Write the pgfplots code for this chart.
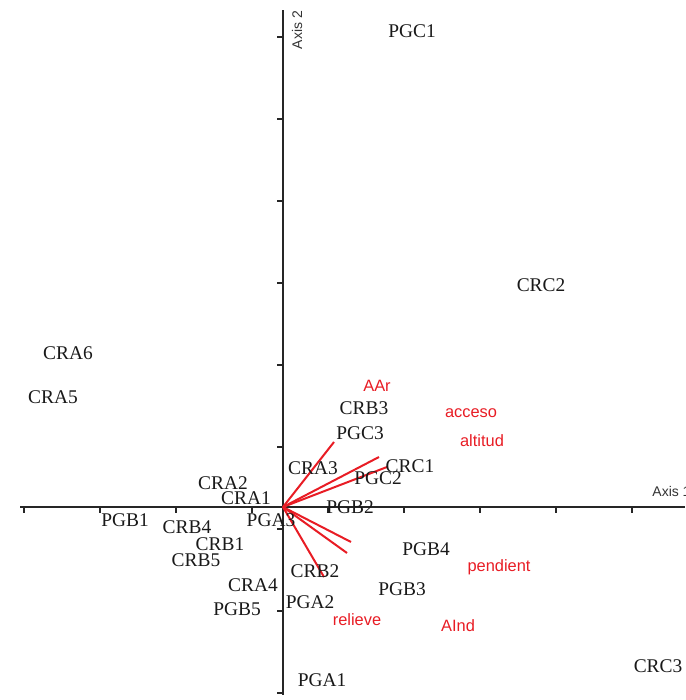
\documentclass[border=0pt]{standalone}
\usepackage{fontspec}
\setmainfont{Liberation Serif}
\newfontfamily\arialfont{Liberation Sans}
\usepackage{pgfplots}
\usepackage{pgfplotstable}
\pgfplotsset{compat=1.18}
\definecolor{vecred}{RGB}{232,28,36}
\definecolor{labblack}{RGB}{25,25,25}

% site scores (pixel-like units, origin at the axes crossing)
\pgfplotstableread{
x y label
129 476 PGC1
258 222 CRC2
-215 154 CRA6
-230 110 CRA5
81 99 CRB3
77 74 PGC3
30 39 CRA3
127 41 CRC1
95 29 PGC2
-60 24 CRA2
-37 9 CRA1
67 0 PGB2
-158 -13 PGB1
-12 -13 PGA3
-96 -20 CRB4
-63 -37 CRB1
143 -42 PGB4
-87 -53 CRB5
32 -64 CRB2
-30 -78 CRA4
119 -82 PGB3
27 -95 PGA2
-46 -102 PGB5
39 -173 PGA1
375 -159 CRC3
}\sites

% environmental variable labels
\pgfplotstableread{
x y label
94 121 AAr
188 94 acceso
199 66 altitud
216 -60 pendient
74 -113 relieve
175 -119 AInd
}\envlab

\begin{document}
\begin{tikzpicture}
\begin{axis}[
  width=342.5pt, height=350pt, scale only axis,
  xmin=-283, xmax=402, ymin=-193, ymax=507,
  axis lines=middle,
  axis line style={-, line width=1pt, black!85},
  x axis line style={shorten <=10pt},
  y axis line style={shorten <=2.5pt, shorten >=5pt},
  xtick={-259,-183,-107,-31,45,121,197,273,349},
  ytick={470,388,306,224,142,60,-22,-104,-186},
  xticklabels={}, yticklabels={},
  tick align=outside,
  major tick length=3pt,
  tick style={line width=0.8pt, black!85},
  clip=false,
]
% environmental vectors
\addplot[vecred, line width=1pt] coordinates {(0,0) (51,65)};
\addplot[vecred, line width=1pt] coordinates {(0,0) (96,50)};
\addplot[vecred, line width=1pt] coordinates {(0,0) (104,40)};
\addplot[vecred, line width=1pt] coordinates {(0,0) (68,-35)};
\addplot[vecred, line width=1pt] coordinates {(0,0) (64,-46)};
\addplot[vecred, line width=1pt] coordinates {(0,0) (41,-70)};
% site labels
\addplot[draw=none, mark=none, nodes near coords, point meta=explicit symbolic,
  every node near coord/.append style={anchor=center, inner sep=0pt, text=labblack,
  font=\fontsize{9.7}{11}\selectfont}]
  table[x=x, y=y, meta=label] {\sites};
% variable labels
\addplot[draw=none, mark=none, nodes near coords, point meta=explicit symbolic,
  every node near coord/.append style={anchor=center, inner sep=0pt, text=vecred,
  font=\arialfont\fontsize{8.2}{10}\selectfont}]
  table[x=x, y=y, meta=label] {\envlab};
\node[anchor=west, inner sep=0pt, text=black!80, font=\arialfont\fontsize{7}{8}\selectfont]
  at (axis cs:369,16) {Axis 1};
\node[anchor=center, inner sep=0pt, rotate=90, text=black!80, font=\arialfont\fontsize{7}{8}\selectfont]
  at (axis cs:14,477) {Axis 2};
\end{axis}
\pgfresetboundingbox
\useasboundingbox (current axis.south west) rectangle (current axis.north east);
\end{tikzpicture}
\end{document}
